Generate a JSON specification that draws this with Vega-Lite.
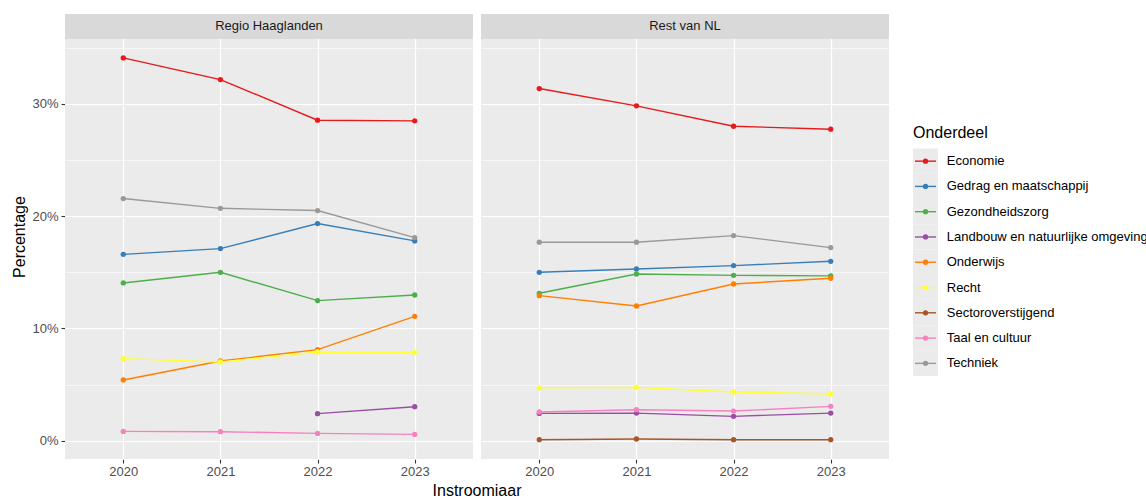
{
  "$schema": "https://vega.github.io/schema/vega-lite/v6.json",
  "padding": {"left": 11, "top": 14, "right": 0, "bottom": 0},
  "background": "white",
  "config": {
    "font": "Liberation Sans",
    "view": {"fill": "#EBEBEB", "stroke": null}
  },
  "datasets": {
    "main": [
      {"regio": "Regio Haaglanden", "onderdeel": "Economie", "jaar": 2020, "pct": 0.341},
      {"regio": "Regio Haaglanden", "onderdeel": "Economie", "jaar": 2021, "pct": 0.3217},
      {"regio": "Regio Haaglanden", "onderdeel": "Economie", "jaar": 2022, "pct": 0.2855},
      {"regio": "Regio Haaglanden", "onderdeel": "Economie", "jaar": 2023, "pct": 0.2849},
      {"regio": "Regio Haaglanden", "onderdeel": "Gedrag en maatschappij", "jaar": 2020, "pct": 0.166},
      {"regio": "Regio Haaglanden", "onderdeel": "Gedrag en maatschappij", "jaar": 2021, "pct": 0.1711},
      {"regio": "Regio Haaglanden", "onderdeel": "Gedrag en maatschappij", "jaar": 2022, "pct": 0.1934},
      {"regio": "Regio Haaglanden", "onderdeel": "Gedrag en maatschappij", "jaar": 2023, "pct": 0.178},
      {"regio": "Regio Haaglanden", "onderdeel": "Gezondheidszorg", "jaar": 2020, "pct": 0.1405},
      {"regio": "Regio Haaglanden", "onderdeel": "Gezondheidszorg", "jaar": 2021, "pct": 0.150},
      {"regio": "Regio Haaglanden", "onderdeel": "Gezondheidszorg", "jaar": 2022, "pct": 0.1248},
      {"regio": "Regio Haaglanden", "onderdeel": "Gezondheidszorg", "jaar": 2023, "pct": 0.1298},
      {"regio": "Regio Haaglanden", "onderdeel": "Landbouw en natuurlijke omgeving", "jaar": 2022, "pct": 0.0241},
      {"regio": "Regio Haaglanden", "onderdeel": "Landbouw en natuurlijke omgeving", "jaar": 2023, "pct": 0.0303},
      {"regio": "Regio Haaglanden", "onderdeel": "Onderwijs", "jaar": 2020, "pct": 0.0541},
      {"regio": "Regio Haaglanden", "onderdeel": "Onderwijs", "jaar": 2021, "pct": 0.071},
      {"regio": "Regio Haaglanden", "onderdeel": "Onderwijs", "jaar": 2022, "pct": 0.0811},
      {"regio": "Regio Haaglanden", "onderdeel": "Onderwijs", "jaar": 2023, "pct": 0.1108},
      {"regio": "Regio Haaglanden", "onderdeel": "Recht", "jaar": 2020, "pct": 0.0731},
      {"regio": "Regio Haaglanden", "onderdeel": "Recht", "jaar": 2021, "pct": 0.0701},
      {"regio": "Regio Haaglanden", "onderdeel": "Recht", "jaar": 2022, "pct": 0.079},
      {"regio": "Regio Haaglanden", "onderdeel": "Recht", "jaar": 2023, "pct": 0.0787},
      {"regio": "Regio Haaglanden", "onderdeel": "Taal en cultuur", "jaar": 2020, "pct": 0.0083},
      {"regio": "Regio Haaglanden", "onderdeel": "Taal en cultuur", "jaar": 2021, "pct": 0.008},
      {"regio": "Regio Haaglanden", "onderdeel": "Taal en cultuur", "jaar": 2022, "pct": 0.0065},
      {"regio": "Regio Haaglanden", "onderdeel": "Taal en cultuur", "jaar": 2023, "pct": 0.0056},
      {"regio": "Regio Haaglanden", "onderdeel": "Techniek", "jaar": 2020, "pct": 0.2157},
      {"regio": "Regio Haaglanden", "onderdeel": "Techniek", "jaar": 2021, "pct": 0.207},
      {"regio": "Regio Haaglanden", "onderdeel": "Techniek", "jaar": 2022, "pct": 0.205},
      {"regio": "Regio Haaglanden", "onderdeel": "Techniek", "jaar": 2023, "pct": 0.1809},
      {"regio": "Rest van NL", "onderdeel": "Economie", "jaar": 2020, "pct": 0.3137},
      {"regio": "Rest van NL", "onderdeel": "Economie", "jaar": 2021, "pct": 0.2983},
      {"regio": "Rest van NL", "onderdeel": "Economie", "jaar": 2022, "pct": 0.2801},
      {"regio": "Rest van NL", "onderdeel": "Economie", "jaar": 2023, "pct": 0.2775},
      {"regio": "Rest van NL", "onderdeel": "Gedrag en maatschappij", "jaar": 2020, "pct": 0.150},
      {"regio": "Rest van NL", "onderdeel": "Gedrag en maatschappij", "jaar": 2021, "pct": 0.153},
      {"regio": "Rest van NL", "onderdeel": "Gedrag en maatschappij", "jaar": 2022, "pct": 0.156},
      {"regio": "Rest van NL", "onderdeel": "Gedrag en maatschappij", "jaar": 2023, "pct": 0.1598},
      {"regio": "Rest van NL", "onderdeel": "Gezondheidszorg", "jaar": 2020, "pct": 0.1313},
      {"regio": "Rest van NL", "onderdeel": "Gezondheidszorg", "jaar": 2021, "pct": 0.1485},
      {"regio": "Rest van NL", "onderdeel": "Gezondheidszorg", "jaar": 2022, "pct": 0.1473},
      {"regio": "Rest van NL", "onderdeel": "Gezondheidszorg", "jaar": 2023, "pct": 0.1468},
      {"regio": "Rest van NL", "onderdeel": "Landbouw en natuurlijke omgeving", "jaar": 2020, "pct": 0.0243},
      {"regio": "Rest van NL", "onderdeel": "Landbouw en natuurlijke omgeving", "jaar": 2021, "pct": 0.0246},
      {"regio": "Rest van NL", "onderdeel": "Landbouw en natuurlijke omgeving", "jaar": 2022, "pct": 0.0217},
      {"regio": "Rest van NL", "onderdeel": "Landbouw en natuurlijke omgeving", "jaar": 2023, "pct": 0.0246},
      {"regio": "Rest van NL", "onderdeel": "Onderwijs", "jaar": 2020, "pct": 0.1292},
      {"regio": "Rest van NL", "onderdeel": "Onderwijs", "jaar": 2021, "pct": 0.120},
      {"regio": "Rest van NL", "onderdeel": "Onderwijs", "jaar": 2022, "pct": 0.1396},
      {"regio": "Rest van NL", "onderdeel": "Onderwijs", "jaar": 2023, "pct": 0.1447},
      {"regio": "Rest van NL", "onderdeel": "Recht", "jaar": 2020, "pct": 0.0472},
      {"regio": "Rest van NL", "onderdeel": "Recht", "jaar": 2021, "pct": 0.0475},
      {"regio": "Rest van NL", "onderdeel": "Recht", "jaar": 2022, "pct": 0.0434},
      {"regio": "Rest van NL", "onderdeel": "Recht", "jaar": 2023, "pct": 0.0416},
      {"regio": "Rest van NL", "onderdeel": "Sectoroverstijgend", "jaar": 2020, "pct": 0.0009},
      {"regio": "Rest van NL", "onderdeel": "Sectoroverstijgend", "jaar": 2021, "pct": 0.0015},
      {"regio": "Rest van NL", "onderdeel": "Sectoroverstijgend", "jaar": 2022, "pct": 0.0009},
      {"regio": "Rest van NL", "onderdeel": "Sectoroverstijgend", "jaar": 2023, "pct": 0.0009},
      {"regio": "Rest van NL", "onderdeel": "Taal en cultuur", "jaar": 2020, "pct": 0.0256},
      {"regio": "Rest van NL", "onderdeel": "Taal en cultuur", "jaar": 2021, "pct": 0.0276},
      {"regio": "Rest van NL", "onderdeel": "Taal en cultuur", "jaar": 2022, "pct": 0.0264},
      {"regio": "Rest van NL", "onderdeel": "Taal en cultuur", "jaar": 2023, "pct": 0.0306},
      {"regio": "Rest van NL", "onderdeel": "Techniek", "jaar": 2020, "pct": 0.1768},
      {"regio": "Rest van NL", "onderdeel": "Techniek", "jaar": 2021, "pct": 0.1768},
      {"regio": "Rest van NL", "onderdeel": "Techniek", "jaar": 2022, "pct": 0.1827},
      {"regio": "Rest van NL", "onderdeel": "Techniek", "jaar": 2023, "pct": 0.172}
    ]
  },
  "spacing": 24,
  "hconcat": [
    {
      "data": {"name": "main"},
      "facet": {
        "column": {
          "field": "regio", "type": "nominal",
          "sort": ["Regio Haaglanden", "Rest van NL"],
          "header": {
            "title": "Instroomjaar", "titleOrient": "bottom", "labels": false,
            "titleFontSize": 16, "titleColor": "black", "titleFontWeight": "normal",
            "titleFont": "Liberation Sans", "titlePadding": -5
          }
        }
      },
      "spacing": 8,
      "spec": {
        "width": 408,
        "height": 445,
        "layer": [
          {
            "mark": {"type": "line", "strokeWidth": 1.4},
            "encoding": {
              "x": {
                "field": "jaar", "type": "quantitative",
                "scale": {"domain": [2019.4, 2023.6], "nice": false, "zero": false},
                "axis": {
                  "values": [2020, 2021, 2022, 2023], "format": "d", "title": null,
                  "domain": false, "grid": true, "gridColor": "white", "gridWidth": 1.2,
                  "tickColor": "#333333", "tickSize": 4, "tickWidth": 1.1,
                  "labelColor": "#4D4D4D", "labelFontSize": 13, "labelPadding": 2,
                  "labelFont": "Liberation Sans"
                }
              },
              "y": {
                "field": "pct", "type": "quantitative",
                "scale": {"domain": [-0.0163, 0.3801], "nice": false, "zero": false},
                "axis": {
                  "values": [0, 0.05, 0.1, 0.15, 0.2, 0.25, 0.3, 0.35],
                  "format": ".0%",
                  "labelExpr": "round(datum.value*100) % 10 == 0 ? datum.label : ''",
                  "title": "Percentage", "titleFontSize": 16, "titleColor": "black",
                  "titleFontWeight": "normal", "titleFont": "Liberation Sans", "titlePadding": 4,
                  "domain": false, "grid": true, "gridColor": "white",
                  "gridWidth": {"condition": {"test": "round(datum.value*100) % 10 != 0", "value": 0.6}, "value": 1.2},
                  "tickOpacity": {"condition": {"test": "round(datum.value*100) % 10 != 0", "value": 0}, "value": 1},
                  "tickColor": "#333333", "tickSize": 4, "tickWidth": 1.1,
                  "labelColor": "#4D4D4D", "labelFontSize": 13, "labelPadding": 3,
                  "labelFont": "Liberation Sans"
                }
              },
              "color": {
                "field": "onderdeel", "type": "nominal",
                "scale": {
                  "domain": ["Economie", "Gedrag en maatschappij", "Gezondheidszorg", "Landbouw en natuurlijke omgeving", "Onderwijs", "Recht", "Sectoroverstijgend", "Taal en cultuur", "Techniek"],
                  "range": ["#E41A1C", "#377EB8", "#4DAF4A", "#984EA3", "#FF7F00", "#FFFF33", "#A65628", "#F781BF", "#999999"]
                },
                "legend": null
              }
            }
          },
          {
            "mark": {"type": "point", "filled": true, "opacity": 1, "size": 28},
            "encoding": {
              "x": {"field": "jaar", "type": "quantitative"},
              "y": {"field": "pct", "type": "quantitative"},
              "color": {"field": "onderdeel", "type": "nominal", "legend": null}
            }
          },
          {
            "transform": [{"aggregate": [{"op": "count", "as": "n"}], "groupby": ["regio"]}],
            "mark": {"type": "rect", "fill": "#D9D9D9"},
            "encoding": {
              "x": {"datum": 2019.4, "type": "quantitative"},
              "x2": {"datum": 2023.6},
              "y": {"datum": 0.3578, "type": "quantitative"},
              "y2": {"datum": 0.3801}
            }
          },
          {
            "transform": [{"aggregate": [{"op": "count", "as": "n"}], "groupby": ["regio"]}],
            "mark": {"type": "text", "fontSize": 13, "color": "#1A1A1A", "baseline": "middle", "align": "center", "font": "Liberation Sans"},
            "encoding": {
              "x": {"datum": 2021.5, "type": "quantitative"},
              "y": {"datum": 0.369, "type": "quantitative"},
              "text": {"field": "regio", "type": "nominal"}
            }
          }
        ]
      }
    },
    {
      "data": {"name": "main"},
      "width": 220,
      "height": 445,
      "view": {"fill": "white", "stroke": null},
      "title": {
        "text": "Onderdeel", "anchor": "start", "orient": "top", "fontSize": 16,
        "fontWeight": "normal", "color": "black", "font": "Liberation Sans",
        "baseline": "middle", "offset": -135
      },
      "transform": [{"aggregate": [{"op": "count", "as": "n"}], "groupby": ["onderdeel"]}],
      "encoding": {
        "y": {
          "field": "onderdeel", "type": "nominal",
          "scale": {
            "type": "band",
            "domain": ["Economie", "Gedrag en maatschappij", "Gezondheidszorg", "Landbouw en natuurlijke omgeving", "Onderwijs", "Recht", "Sectoroverstijgend", "Taal en cultuur", "Techniek"],
            "range": [134.5, 362], "paddingInner": 0, "paddingOuter": 0
          },
          "axis": null
        }
      },
      "layer": [
        {
          "mark": {"type": "rect", "fill": "#EBEBEB"},
          "encoding": {
            "x": {"datum": 0, "type": "quantitative", "scale": {"domain": [0, 8.8], "nice": false, "zero": false}, "axis": null},
            "x2": {"datum": 1}
          }
        },
        {
          "mark": {"type": "rule", "strokeWidth": 1.4},
          "encoding": {
            "x": {"datum": 0.08, "type": "quantitative"},
            "x2": {"datum": 0.92},
            "color": {
              "field": "onderdeel", "type": "nominal",
              "scale": {
                "domain": ["Economie", "Gedrag en maatschappij", "Gezondheidszorg", "Landbouw en natuurlijke omgeving", "Onderwijs", "Recht", "Sectoroverstijgend", "Taal en cultuur", "Techniek"],
                "range": ["#E41A1C", "#377EB8", "#4DAF4A", "#984EA3", "#FF7F00", "#FFFF33", "#A65628", "#F781BF", "#999999"]
              },
              "legend": null
            }
          }
        },
        {
          "mark": {"type": "point", "filled": true, "opacity": 1, "size": 28},
          "encoding": {
            "x": {"datum": 0.5, "type": "quantitative"},
            "color": {"field": "onderdeel", "type": "nominal", "legend": null}
          }
        },
        {
          "mark": {"type": "text", "align": "left", "baseline": "middle", "fontSize": 13, "color": "#000000", "font": "Liberation Sans"},
          "encoding": {
            "x": {"datum": 1.35, "type": "quantitative"},
            "text": {"field": "onderdeel", "type": "nominal"}
          }
        }
      ]
    }
  ]
}
